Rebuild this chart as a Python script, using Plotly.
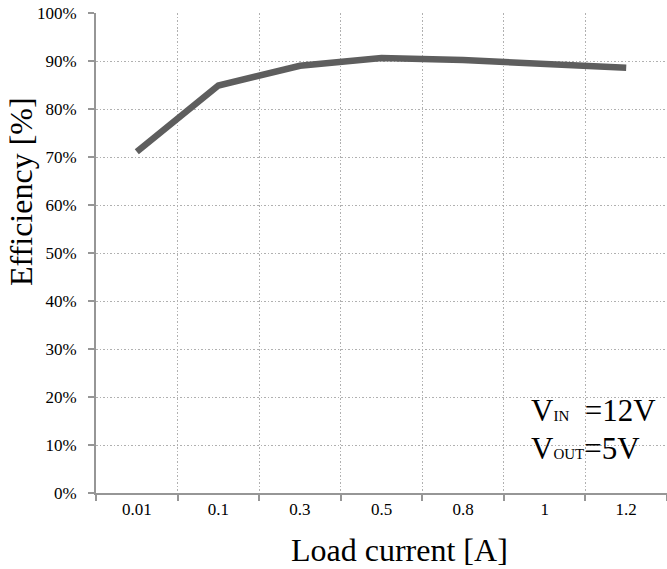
import plotly.graph_objects as go

# Efficiency vs load current
load_current = ["0.01", "0.1", "0.3", "0.5", "0.8", "1", "1.2"]
efficiency = [71.1, 84.9, 89.0, 90.6, 90.2, 89.5, 88.6]
y_ticks = [0, 10, 20, 30, 40, 50, 60, 70, 80, 90, 100]
y_tick_text = [f"{v}%" for v in y_ticks]

W, H = 667, 569
L, R, T, B = 96, 0, 13, 76
FONT = "Liberation Serif"
GRID = "#b0b0b0"
AXIS = "#969696"

fig = go.Figure()
fig.add_trace(go.Scatter(
    x=load_current, y=efficiency, mode="lines",
    line=dict(color="#5e5e5e", width=6.5),
    hoverinfo="skip", showlegend=False,
))

pw = W - L - R
ph = H - T - B


def px(x):
    return (x - L) / pw


def py(y):
    return (H - B - y) / ph


fig.update_layout(
    width=W, height=H,
    margin=dict(l=L, r=R, t=T, b=B),
    paper_bgcolor="white", plot_bgcolor="white",
    font=dict(family=FONT, color="black"),
    xaxis=dict(
        type="category", tickson="boundaries",
        range=[-0.5, len(load_current) - 0.5],
        showgrid=True, gridcolor=GRID, griddash="1.5px,2px", gridwidth=1.2,
        showline=True, linecolor=AXIS, linewidth=2,
        ticks="outside", ticklen=6, tickcolor=AXIS, tickwidth=1.5,
        tickfont=dict(size=17, family=FONT, color="black"),
        zeroline=False,
    ),
    yaxis=dict(
        range=[0, 100], tickvals=y_ticks, ticktext=y_tick_text,
        showgrid=True, gridcolor=GRID, griddash="1.5px,2px", gridwidth=1.2,
        showline=True, linecolor=AXIS, linewidth=2,
        ticks="outside", ticklen=6, tickcolor=AXIS, tickwidth=1.5,
        ticklabelstandoff=8,
        tickfont=dict(size=17, family=FONT, color="black"),
        zeroline=False,
    ),
)

annotations = [
    dict(text="Load current [A]", x=px(399), y=py(550),
         font=dict(size=32, family=FONT, color="black")),
    dict(text="Efficiency [%]", x=px(21), y=py(192), textangle=-90,
         font=dict(size=32, family=FONT, color="black")),
    dict(text="V<span style='font-size:15px'>IN</span>  =12V",
         x=px(529), y=py(410), xanchor="left",
         font=dict(size=31, family=FONT, color="black")),
    dict(text="V<span style='font-size:15px'>OUT</span>=5V",
         x=px(529), y=py(448), xanchor="left",
         font=dict(size=31, family=FONT, color="black")),
]
for a in annotations:
    a.setdefault("xanchor", "center")
    a.update(xref="paper", yref="paper", yanchor="middle", showarrow=False)
fig.update_layout(annotations=annotations)

fig.write_html("out.html")
